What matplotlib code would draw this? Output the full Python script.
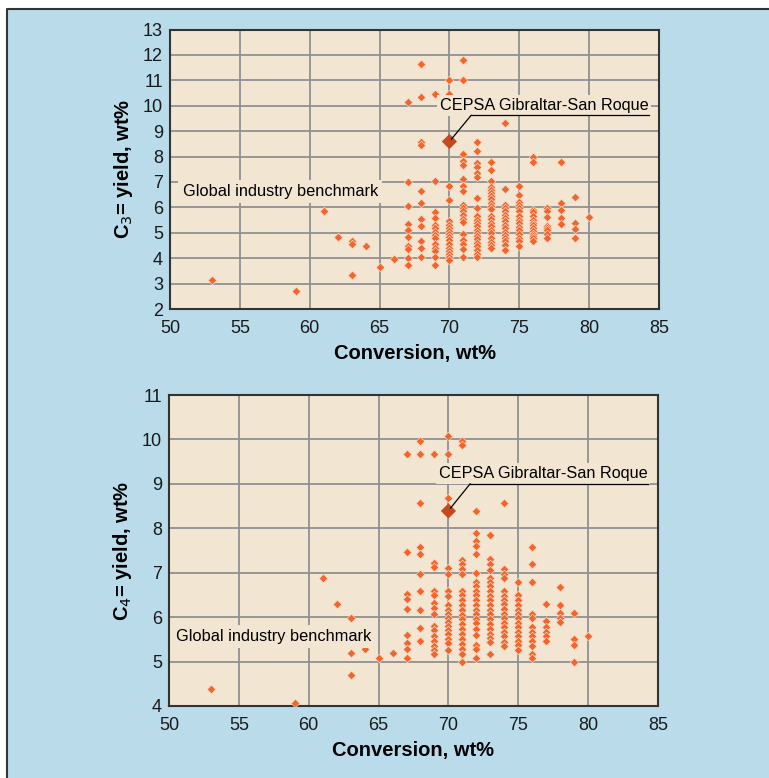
import matplotlib
matplotlib.use("Agg")
import matplotlib.pyplot as plt
from matplotlib.patches import Rectangle

plt.rcParams['font.family'] = ['Liberation Sans', 'DejaVu Sans']

# conversion columns (wt%) shared by both panels
conversion = [53, 59, 61, 62, 63, 64, 65, 66, 67, 68, 69, 70, 71, 72, 73,
              74, 75, 76, 77, 78, 79, 80]

# C3= yield per conversion column
c3_yield = [
    [3.15],
    [2.7],
    [5.85],
    [4.84],
    [4.68, 4.54, 3.34],
    [4.47],
    [3.66],
    [3.97],
    [10.16, 6.99, 6.04, 5.36, 5.11, 4.84, 4.49, 4.36, 3.99, 3.72],
    [11.66, 10.34, 8.59, 8.46, 6.66, 6.16, 5.54, 5.28, 4.67, 4.41, 4.04],
    [10.48, 7.04, 5.80, 5.60, 5.30, 5.17, 5.04, 4.91, 4.78, 4.55, 4.42, 4.29,
     4.04, 3.72],
    [11.03, 10.48, 6.84, 6.29, 5.47, 5.30, 5.18, 5.06, 4.95, 4.83, 4.70, 4.55,
     4.42, 4.30, 4.18, 4.05, 3.93],
    [11.78, 11.03, 8.10, 7.84, 7.65, 7.11, 6.85, 6.65, 6.11, 5.98, 5.85, 5.70,
     5.56, 5.44, 4.97, 4.72, 4.57, 4.38, 4.03],
    [8.59, 8.22, 7.74, 7.58, 7.36, 7.20, 6.36, 5.97, 5.66, 5.51, 5.38, 5.25,
     5.12, 5.01, 4.88, 4.75, 4.59, 4.46, 4.33, 4.16, 4.04],
    [7.78, 7.46, 7.03, 6.82, 6.70, 6.57, 6.44, 6.31, 6.18, 6.05, 5.92, 5.66,
     5.53, 5.40, 5.27, 5.11, 4.98, 4.78, 4.65, 4.52, 4.39],
    [9.33, 6.73, 6.11, 5.97, 5.84, 5.71, 5.58, 5.45, 5.32, 5.18, 5.05, 4.92,
     4.79, 4.66, 4.51, 4.34],
    [6.85, 6.48, 6.22, 6.09, 5.97, 5.84, 5.67, 5.51, 5.38, 5.22, 5.09, 4.96,
     4.79, 4.66, 4.49],
    [7.97, 7.78, 5.91, 5.80, 5.65, 5.52, 5.40, 5.30, 5.20, 5.08, 4.97, 4.88,
     4.78, 4.66],
    [5.96, 5.85, 5.63, 5.26, 5.18, 5.11, 4.97, 4.78],
    [7.78, 6.16, 5.89, 5.59, 5.34],
    [6.39, 5.39, 5.14, 4.78],
    [5.61],
]

# C4= yield per conversion column
c4_yield = [
    [4.38],
    [4.07],
    [6.87],
    [6.30],
    [5.98, 5.19, 4.69],
    [5.28],
    [5.08],
    [5.19],
    [9.68, 7.47, 6.52, 6.40, 6.19, 5.59, 5.41, 5.29, 5.08],
    [9.97, 9.68, 8.57, 7.59, 7.41, 6.98, 6.59, 6.15, 5.76, 5.47],
    [9.68, 7.21, 7.12, 6.59, 6.49, 6.31, 6.20, 6.08, 5.80, 5.71, 5.57, 5.47,
     5.35, 5.26, 5.17],
    [10.08, 9.68, 8.68, 7.10, 6.98, 6.59, 6.47, 6.27, 6.17, 6.07, 5.98, 5.89,
     5.80, 5.71, 5.61, 5.50, 5.41, 5.26],
    [9.97, 9.88, 7.29, 7.19, 7.08, 6.98, 6.59, 6.49, 6.38, 6.27, 6.16, 6.05,
     5.95, 5.84, 5.74, 5.63, 5.50, 5.39, 5.29, 5.18, 4.98],
    [8.40, 7.89, 7.71, 7.60, 7.42, 6.99, 6.80, 6.69, 6.59, 6.50, 6.39, 6.27,
     6.17, 6.07, 5.96, 5.86, 5.74, 5.59, 5.37, 5.29, 5.09],
    [7.86, 7.30, 7.20, 7.06, 6.89, 6.79, 6.69, 6.59, 6.48, 6.38, 6.28, 6.17,
     6.06, 5.96, 5.85, 5.74, 5.63, 5.53, 5.44, 5.18],
    [8.58, 7.09, 6.98, 6.87, 6.59, 6.48, 6.38, 6.29, 6.18, 6.08, 5.97, 5.86,
     5.77, 5.67, 5.57, 5.44, 5.35],
    [6.78, 6.50, 6.38, 6.27, 6.17, 6.08, 5.97, 5.87, 5.77, 5.67, 5.57, 5.47,
     5.37, 5.27],
    [7.59, 7.19, 6.80, 6.08, 5.97, 5.77, 5.67, 5.57, 5.47, 5.35, 5.18, 5.07],
    [6.30, 5.91, 5.78, 5.67, 5.57, 5.47],
    [6.67, 6.27, 6.10, 5.98, 5.88],
    [6.10, 5.50, 5.38, 4.99],
    [5.57],
]

# CEPSA Gibraltar-San Roque refinery
cepsa_conv = 70
cepsa_c3 = 8.59
cepsa_c4 = 8.39

BG = '#b9dbea'
PANEL = '#f2e6d3'
DOT = '#f2652c'
CEPSA_COL = '#c9471d'
GRID = '#909090'


def flatten(cols, ys):
    xs_out, ys_out = [], []
    for c, vals in zip(cols, ys):
        for v in vals:
            xs_out.append(c)
            ys_out.append(v)
    return xs_out, ys_out


def panel(ax, ys, cepsa_y, ylim, ylabel, lab_y, underline_y, bench_xy):
    x, y = flatten(conversion, ys)
    ax.set_facecolor(PANEL)
    ax.grid(True, color=GRID, lw=1.3, zorder=0)
    ax.set_axisbelow(True)
    ax.scatter(x, y, marker='D', s=19, color=DOT, edgecolors='#f6d6bd',
               linewidths=0.5, zorder=3)
    ax.scatter([cepsa_conv], [cepsa_y], marker='D', s=60, color=CEPSA_COL,
               edgecolors='none', zorder=4)
    ax.set_xlim(50, 85)
    ax.set_ylim(*ylim)
    ax.set_xticks(range(50, 86, 5))
    ax.set_yticks(range(ylim[0], ylim[1] + 1))
    ax.tick_params(length=0, labelsize=13, labelcolor='#1a1a1a')
    ax.tick_params(axis='x', pad=8)
    ax.tick_params(axis='y', pad=5)
    for s in ax.spines.values():
        s.set_color('#333333')
        s.set_linewidth(1.5)
    ax.set_xlabel('Conversion, wt%', fontsize=14.5, fontweight='bold',
                  labelpad=5)
    ax.set_ylabel(ylabel, fontsize=14.5, fontweight='bold', labelpad=6)

    # callout for CEPSA
    ax.text(69.3, lab_y, 'CEPSA Gibraltar-San Roque', fontsize=11.7,
            va='center', ha='left', zorder=5,
            bbox=dict(facecolor=PANEL, edgecolor='none', pad=2))
    ax.plot([71.55, 84.3], [underline_y, underline_y], color='black', lw=0.9,
            zorder=6, clip_on=False)
    ax.plot([71.55, cepsa_conv + 0.15], [underline_y, cepsa_y + 0.1 * (ylim[1] - ylim[0]) / 11],
            color='black', lw=0.9, zorder=6)

    ax.text(bench_xy[0], bench_xy[1], 'Global industry benchmark', fontsize=11.8,
            va='center', ha='left', zorder=5,
            bbox=dict(facecolor=PANEL, edgecolor='none', pad=3))


fig = plt.figure(figsize=(7.69, 7.78), dpi=100)
fig.patch.set_facecolor('white')
fig.patches.append(Rectangle((7 / 769, 0), 1, 1 - 9 / 778, transform=fig.transFigure,
                             facecolor=BG, edgecolor='none', zorder=-10))
fig.lines.append(plt.Line2D([7 / 769, 7 / 769, 1], [0, 1 - 9 / 778, 1 - 9 / 778],
                            transform=fig.transFigure, color='#333333', lw=1.5))

ax1 = fig.add_axes([170 / 769, 1 - 309 / 778, 489 / 769, 279.5 / 778])
ax2 = fig.add_axes([169 / 769, 1 - 706 / 778, 489 / 769, 311 / 778])

panel(ax1, c3_yield, cepsa_c3, (2, 13), 'C$_3$= yield, wt%', 10.0, 9.62,
      (50.9, 6.62))
panel(ax2, c4_yield, cepsa_c4, (4, 11), 'C$_4$= yield, wt%', 9.23, 9.0,
      (50.5, 5.57))

fig.savefig('out.png', dpi=100, facecolor=fig.get_facecolor())
